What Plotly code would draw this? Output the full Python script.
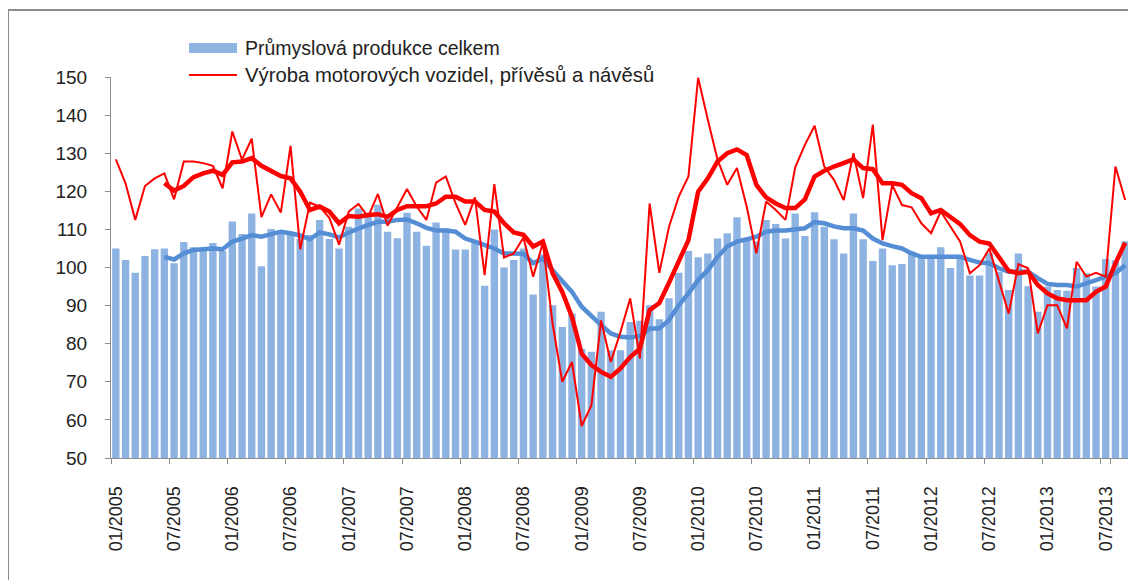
import plotly.graph_objects as go

# ---------------- data ----------------
MONTHS = [f"{m:02d}/{y}" for y in range(2005, 2014) for m in range(1, 13)][:105]

TICK_LABELS = ["01/2005", "07/2005", "01/2006", "07/2006", "01/2007", "07/2007",
               "01/2008", "07/2008", "01/2009", "07/2009", "01/2010", "07/2010",
               "01/2011", "07/2011", "01/2012", "07/2012", "01/2013", "07/2013"]

PRUMYSL = [105.0, 102.0, 98.6, 103.0, 104.8, 105.0, 101.1, 106.7, 105.3, 105.2, 106.4, 104.3,
           112.1, 108.8, 114.2, 100.3, 110.1, 109.2, 109.0, 107.6, 108.5, 112.5, 107.5, 105.0,
           110.7, 115.5, 113.5, 116.5, 109.4, 107.7, 114.4, 109.4, 105.7, 111.8, 110.3, 104.7,
           104.7, 106.8, 95.2, 110.0, 100.0, 102.0, 105.0, 92.9, 103.5, 90.1, 84.4, 87.9,
           78.6, 77.9, 88.4, 78.3, 78.3, 85.7, 86.0, 90.1, 86.4, 91.9, 98.6, 104.3,
           102.7, 103.7, 107.6, 109.0, 113.2, 107.2, 106.8, 112.5, 111.4, 107.6, 114.2, 108.3,
           114.5, 110.7, 107.4, 103.7, 114.2, 107.4, 101.7, 105.0, 100.6, 100.9, 104.2, 102.8,
           102.8, 105.3, 99.9, 102.7, 97.9, 97.9, 103.9, 98.9, 94.1, 103.7, 95.1, 88.4,
           95.0, 94.1, 93.9, 99.9, 98.5, 95.0, 102.2, 101.9, 106.9]

VOZIDLA = [128.4, 122.1, 112.5, 121.4, 123.4, 124.7, 117.9, 127.8, 127.8, 127.4, 126.7, 120.8,
           135.7, 128.3, 133.8, 113.2, 119.2, 114.4, 131.9, 104.8, 117.0, 116.0, 113.0, 106.0,
           114.7, 116.7, 113.3, 119.3, 111.0, 116.0, 120.6, 116.0, 112.5, 122.3, 123.9, 116.9,
           111.2, 118.4, 98.0, 121.9, 102.6, 103.7, 107.9, 97.6, 106.5, 85.3, 70.0, 75.2,
           58.4, 63.8, 86.1, 75.2, 83.1, 91.9, 76.1, 116.8, 98.6, 110.7, 118.6, 123.9,
           149.8, 138.8, 128.3, 121.7, 126.1, 116.0, 103.7, 117.3, 115.1, 112.5, 126.3, 132.2,
           137.2, 126.5, 123.0, 117.7, 130.0, 118.2, 137.5, 107.2, 121.7, 116.4, 115.8, 111.6,
           109.0, 114.7, 110.7, 106.8, 98.5, 100.6, 105.0, 96.7, 87.9, 100.9, 99.8, 82.7,
           90.1, 90.1, 84.0, 101.5, 97.6, 98.6, 97.6, 126.5, 117.7]

# thick trend lines start at 06/2005
TREND_START = 5
PRUMYSL_TREND = [102.8, 102.1, 103.7, 104.6, 104.8, 105.0, 104.8,
                 106.8, 107.6, 108.5, 108.1, 108.8, 109.4, 109.0, 108.4, 107.4, 109.2, 108.7, 107.9,
                 109.2, 110.3, 111.2, 112.0, 112.0, 112.5, 112.6, 111.6, 110.4, 109.7, 109.7, 109.4,
                 107.6, 106.8, 105.9, 105.0, 103.7, 103.7, 103.6, 101.1, 102.4, 99.3, 96.3, 93.6,
                 89.7, 87.2, 84.9, 82.7, 81.8, 81.6, 82.0, 84.0, 84.0, 86.2, 90.1, 93.2,
                 96.7, 99.3, 102.8, 105.5, 106.8, 107.4, 108.1, 109.4, 109.7, 109.7, 110.0, 110.3,
                 111.9, 111.6, 110.8, 110.3, 110.3, 109.7, 107.6, 106.3, 105.6, 105.0, 103.7, 102.8,
                 102.8, 102.8, 103.0, 102.8, 102.0, 101.3, 101.1, 99.8, 98.9, 98.9, 98.9, 97.2,
                 95.7, 95.4, 95.4, 95.0, 95.7, 96.7, 97.6, 98.5, 100.6]

VOZIDLA_TREND = [122.1, 120.2, 121.4, 123.7, 124.7, 125.4, 124.3,
                 127.6, 127.8, 128.7, 126.7, 125.2, 124.0, 123.4, 119.9, 115.1, 116.0, 114.7, 111.6,
                 113.5, 113.3, 113.8, 114.0, 113.3, 115.1, 116.1, 116.1, 116.1, 116.8, 118.6, 118.6,
                 117.3, 117.3, 115.1, 114.7, 111.6, 109.2, 108.6, 105.5, 106.8, 98.5, 93.6, 87.0,
                 77.4, 74.4, 72.6, 71.3, 73.5, 76.5, 78.7, 88.8, 90.7, 96.0, 101.9, 107.2,
                 119.9, 123.4, 127.8, 130.0, 131.0, 129.5, 121.7, 118.4, 116.8, 115.6, 115.6, 117.9,
                 123.9, 125.4, 126.5, 127.5, 128.4, 126.1, 125.8, 122.1, 122.1, 121.7, 119.5, 118.2,
                 114.2, 115.1, 113.3, 111.4, 108.5, 106.8, 106.3, 102.8, 99.1, 98.5, 98.9, 95.4,
                 93.2, 91.9, 91.4, 91.4, 91.4, 93.6, 95.0, 101.1, 106.5]

NAME_BARS = "Průmyslová produkce celkem"
NAME_LINE = "Výroba motorových vozidel, přívěsů a návěsů"

# ---------------- layout constants ----------------
# the page body adds an 8px offset, so the figure is 8px smaller than the window
W, H = 1128, 572
L, R, T, B = 103, 6, 69, 122
PW, PH = W - L - R, H - T - B
FONT = "Liberation Sans, Arial, sans-serif"
BAR_COLOR = "#8DB3E2"
BLUE_LINE = "#558ED5"
RED = "#FF0000"
AXIS = "#8C8C8C"


def px(x):
    return (x - L) / PW


def py(y):
    return (H - B - y) / PH


fig = go.Figure()
fig.add_trace(go.Bar(x=MONTHS, y=PRUMYSL, marker=dict(color=BAR_COLOR, line=dict(width=0)),
                     name=NAME_BARS, showlegend=False))
fig.add_trace(go.Scatter(x=MONTHS[TREND_START:], y=PRUMYSL_TREND, mode="lines",
                         line=dict(color=BLUE_LINE, width=4.5), showlegend=False))
fig.add_trace(go.Scatter(x=MONTHS, y=VOZIDLA, mode="lines", name=NAME_LINE,
                         line=dict(color=RED, width=2), showlegend=False))
fig.add_trace(go.Scatter(x=MONTHS[TREND_START:], y=VOZIDLA_TREND, mode="lines",
                         line=dict(color=RED, width=4.5), showlegend=False))

shapes = [
    # outer frame (left and top edges visible)
    dict(type="rect", xref="paper", yref="paper", x0=px(0), y0=py(640), x1=px(1200), y1=py(2),
         line=dict(color="#8C8C8C", width=2), fillcolor="rgba(0,0,0,0)", layer="below"),
    # legend symbols
    dict(type="rect", xref="paper", yref="paper", x0=px(181), x1=px(229), y0=py(45), y1=py(35),
         line=dict(width=0), fillcolor=BAR_COLOR),
    dict(type="line", xref="paper", yref="paper", x0=px(181), x1=px(229), y0=py(67), y1=py(67),
         line=dict(color=RED, width=2)),
]
annotations = [
    dict(text=NAME_BARS, xref="paper", yref="paper", x=px(235), y=py(40), xanchor="left",
         yanchor="middle", showarrow=False, font=dict(family=FONT, size=19.5, color="#222")),
    dict(text=NAME_LINE, xref="paper", yref="paper", x=px(235), y=py(67), xanchor="left",
         yanchor="middle", showarrow=False, font=dict(family=FONT, size=20.3, color="#222")),
]

fig.update_layout(
    width=W, height=H, margin=dict(l=L, r=R, t=T, b=B, autoexpand=False),
    paper_bgcolor="white", plot_bgcolor="white",
    bargap=0.24, showlegend=False,
    font=dict(family=FONT, size=18, color="#222"),
    shapes=shapes, annotations=annotations,
    xaxis=dict(type="category", range=[-0.5, 104.5], tickmode="array", tickvals=TICK_LABELS,
               ticktext=TICK_LABELS, tickangle=-90, tickson="boundaries", ticks="outside",
               ticklen=5, tickcolor=AXIS, showline=True, linecolor=AXIS, linewidth=1,
               showgrid=False, zeroline=False, ticklabelstandoff=20,
               tickfont=dict(family=FONT, size=18, color="#222")),
    yaxis=dict(range=[50, 150], tickvals=list(range(50, 151, 10)), ticks="outside", ticklen=5,
               tickcolor=AXIS, showline=True, linecolor=AXIS, linewidth=1, showgrid=False,
               zeroline=False, ticklabelstandoff=14,
               tickfont=dict(family=FONT, size=19, color="#222")),
)

fig.write_html("out.html")
